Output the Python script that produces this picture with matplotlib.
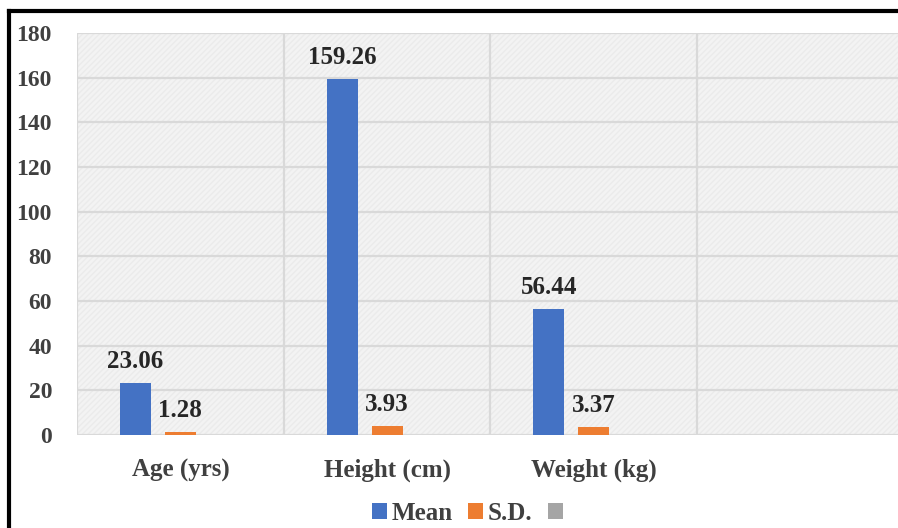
import matplotlib
matplotlib.use("Agg")
import matplotlib.pyplot as plt
import numpy as np
from matplotlib.patches import Rectangle, Patch
from matplotlib.lines import Line2D

categories = ['Age (yrs)', 'Height (cm)', 'Weight (kg)', '']
mean_vals = [23.06, 159.26, 56.44, np.nan]
sd_vals = [1.28, 3.93, 3.37, np.nan]
series_names = ['Mean', 'S.D.', '']
colors = ['#4472C4', '#ED7D31', '#A5A5A5']
yticks = [0, 20, 40, 60, 80, 100, 120, 140, 160, 180]

plt.rcParams['font.family'] = ['Liberation Serif', 'DejaVu Serif']
plt.rcParams['font.weight'] = 'bold'
txt = '#404040'
fs = 18

fig = plt.figure(figsize=(8.98, 5.28), dpi=100)
ax = fig.add_axes([77/898, 93/528, 827/898, 402/528])
ax.set_facecolor('#f3f3f3')
bg = Rectangle((0, 0), 1, 1, transform=ax.transAxes, facecolor='none',
               edgecolor='#ebebeb', hatch='//////', linewidth=0, zorder=0)
ax.add_patch(bg)

x = np.arange(len(categories))
w = 0.15
off = 0.218
b1 = ax.bar(x - off, mean_vals, w, color=colors[0], zorder=3)
b2 = ax.bar(x, sd_vals, w, color=colors[1], zorder=3)

for bars, vals in ((b1, mean_vals), (b2, sd_vals)):
    for r, v in zip(bars, vals):
        if np.isnan(v):
            continue
        ax.text(r.get_x() + r.get_width()/2, v + 4.5, f'{v:.2f}', ha='center', va='bottom',
                fontsize=fs, fontweight='bold', color='#262626', zorder=4)

ax.set_xlim(-0.5, 3.5)
ax.set_ylim(0, 180)
ax.set_yticks(yticks)
ax.set_yticklabels([str(t) for t in yticks], fontsize=17, fontweight='bold', color=txt)
ax.set_xticks(x)
ax.set_xticklabels(categories, fontsize=fs, fontweight='bold', color=txt)
ax.tick_params(axis='both', length=0)
ax.tick_params(axis='y', pad=18)
ax.tick_params(axis='x', pad=17)

for yv in yticks:
    ax.axhline(yv, color='#d9d9d9', lw=1.6, zorder=1)
for xb in np.arange(-0.5, 3.6, 1.0):
    ax.axvline(xb, color='#d9d9d9', lw=1.6, zorder=1)
for s in ax.spines.values():
    s.set_visible(False)

handles = [Patch(facecolor=c, edgecolor='none') for c in colors]
leg = fig.legend(handles, series_names, loc='center', bbox_to_anchor=(0.523, 0.027), ncol=3,
                 frameon=False, fontsize=fs, handlelength=0.6, handleheight=0.6,
                 handletextpad=0.2, columnspacing=0.6)
for t in leg.get_texts():
    t.set_color(txt)
    t.set_fontweight('bold')

fig.add_artist(Line2D([9/898, 9/898], [0, 1 - 11/528], color='black', lw=3, transform=fig.transFigure))
fig.add_artist(Line2D([9/898, 1], [1 - 11/528, 1 - 11/528], color='black', lw=3, transform=fig.transFigure))

fig.savefig('out.png', dpi=100)
